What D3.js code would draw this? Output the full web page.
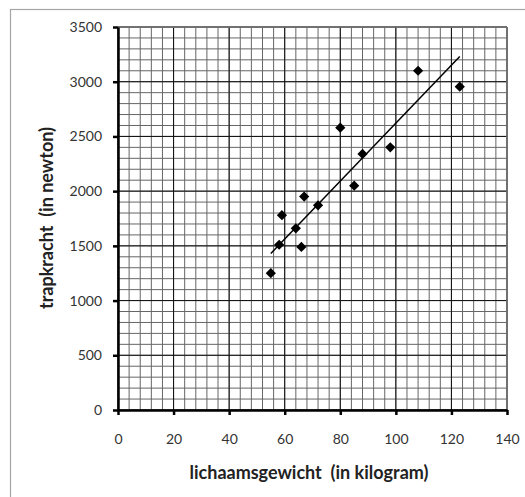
<!DOCTYPE html>
<html>
<head>
<meta charset="utf-8">
<script src="https://cdn.jsdelivr.net/npm/d3@7"></script>
<style>
  html, body { margin: 0; padding: 0; background: #fff; }
  svg { display: block; }
</style>
</head>
<body>
<svg id="chart" width="525" height="497"></svg>
<script>
// ---- data ----
const weight = [55, 58, 59, 66, 64, 67, 72, 80, 85, 88, 98, 108, 123];
const force  = [1250, 1510, 1780, 1490, 1660, 1950, 1870, 2580, 2050, 2340, 2400, 3100, 2955];
const trendX = [55, 123];
const trendY = [1430, 3230];
const xTicks = [0, 20, 40, 60, 80, 100, 120, 140];
const yTicks = [0, 500, 1000, 1500, 2000, 2500, 3000, 3500];
const xTitle = "lichaamsgewicht  (in kilogram)";
const yTitle = "trapkracht  (in newton)";

const svg = d3.select("#chart");
const m = { left: 118, right: 507, top: 27, bottom: 410 };

const x = d3.scaleLinear().domain([0, 140]).range([m.left, m.right]);
const y = d3.scaleLinear().domain([0, 3500]).range([m.bottom, m.top]);

// outer frame
svg.append("rect")
  .attr("x", 10.5).attr("y", 9.5)
  .attr("width", 530).attr("height", 500)
  .attr("fill", "none").attr("stroke", "#a6a6a6").attr("stroke-width", 1.2);

// minor grid
const g = svg.append("g");
const xMinor = d3.range(0, 141, 4);
const yMinor = d3.range(0, 3501, 100);
g.selectAll(".vx").data(xMinor).join("line")
  .attr("x1", d => x(d)).attr("x2", d => x(d))
  .attr("y1", m.top).attr("y2", m.bottom)
  .attr("stroke", "#666").attr("stroke-width", 1);
g.selectAll(".hy").data(yMinor).join("line")
  .attr("y1", d => y(d)).attr("y2", d => y(d))
  .attr("x1", m.left).attr("x2", m.right)
  .attr("stroke", "#666").attr("stroke-width", 1);

// major grid
g.selectAll(".mx").data(xTicks).join("line")
  .attr("x1", d => x(d)).attr("x2", d => x(d))
  .attr("y1", m.top).attr("y2", m.bottom)
  .attr("stroke", "#111").attr("stroke-width", 1);
g.selectAll(".my").data(yTicks).join("line")
  .attr("y1", d => y(d)).attr("y2", d => y(d))
  .attr("x1", m.left).attr("x2", m.right)
  .attr("stroke", "#111").attr("stroke-width", 1);

// right/top edges
svg.append("line").attr("x1", m.right).attr("x2", m.right).attr("y1", m.top).attr("y2", m.bottom)
  .attr("stroke", "#777").attr("stroke-width", 1.5);
svg.append("line").attr("x1", m.left).attr("x2", m.right).attr("y1", m.top).attr("y2", m.top)
  .attr("stroke", "#777").attr("stroke-width", 1.5);

// axes
const font = "Lato, 'Open Sans', sans-serif";
const fmt = d3.format("d");
const xAxis = svg.append("g")
  .attr("transform", `translate(0,${m.bottom})`)
  .call(d3.axisBottom(x).tickValues(xTicks).tickFormat(fmt).tickSize(5).tickPadding(19).tickSizeOuter(0));
const yAxis = svg.append("g")
  .attr("transform", `translate(${m.left},0)`)
  .call(d3.axisLeft(y).tickValues(yTicks).tickFormat(fmt).tickSize(5).tickPadding(11).tickSizeOuter(0));
[xAxis, yAxis].forEach(a => {
  a.select(".domain").attr("stroke", "#000").attr("stroke-width", 2.5);
  a.selectAll(".tick line").attr("stroke", "#000").attr("stroke-width", 2.5);
  a.selectAll(".tick text").attr("fill", "#333").style("font-family", font).style("font-size", "14px");
});

// trend line
svg.append("line")
  .attr("x1", x(trendX[0])).attr("y1", y(trendY[0]))
  .attr("x2", x(trendX[1])).attr("y2", y(trendY[1]))
  .attr("stroke", "#000").attr("stroke-width", 1.5);

// markers
const pts = weight.map((w, i) => ({ w, f: force[i] }));
svg.selectAll(".pt").data(pts).join("path")
  .attr("d", d3.symbol().type(d3.symbolSquare).size(52))
  .attr("transform", d => `translate(${x(d.w)},${y(d.f)}) rotate(45)`)
  .attr("fill", "#000");

// titles
svg.append("text")
  .attr("x", 309).attr("y", 479)
  .attr("text-anchor", "middle")
  .attr("xml:space", "preserve").style("white-space", "pre")
  .style("font-family", font).style("font-size", "18px").style("font-weight", "bold")
  .attr("fill", "#222")
  .text(xTitle);
svg.append("text")
  .attr("transform", `translate(53,218) rotate(-90)`)
  .attr("text-anchor", "middle")
  .attr("xml:space", "preserve").style("white-space", "pre")
  .style("font-family", font).style("font-size", "18px").style("font-weight", "bold")
  .attr("fill", "#222")
  .text(yTitle);
</script>
</body>
</html>
